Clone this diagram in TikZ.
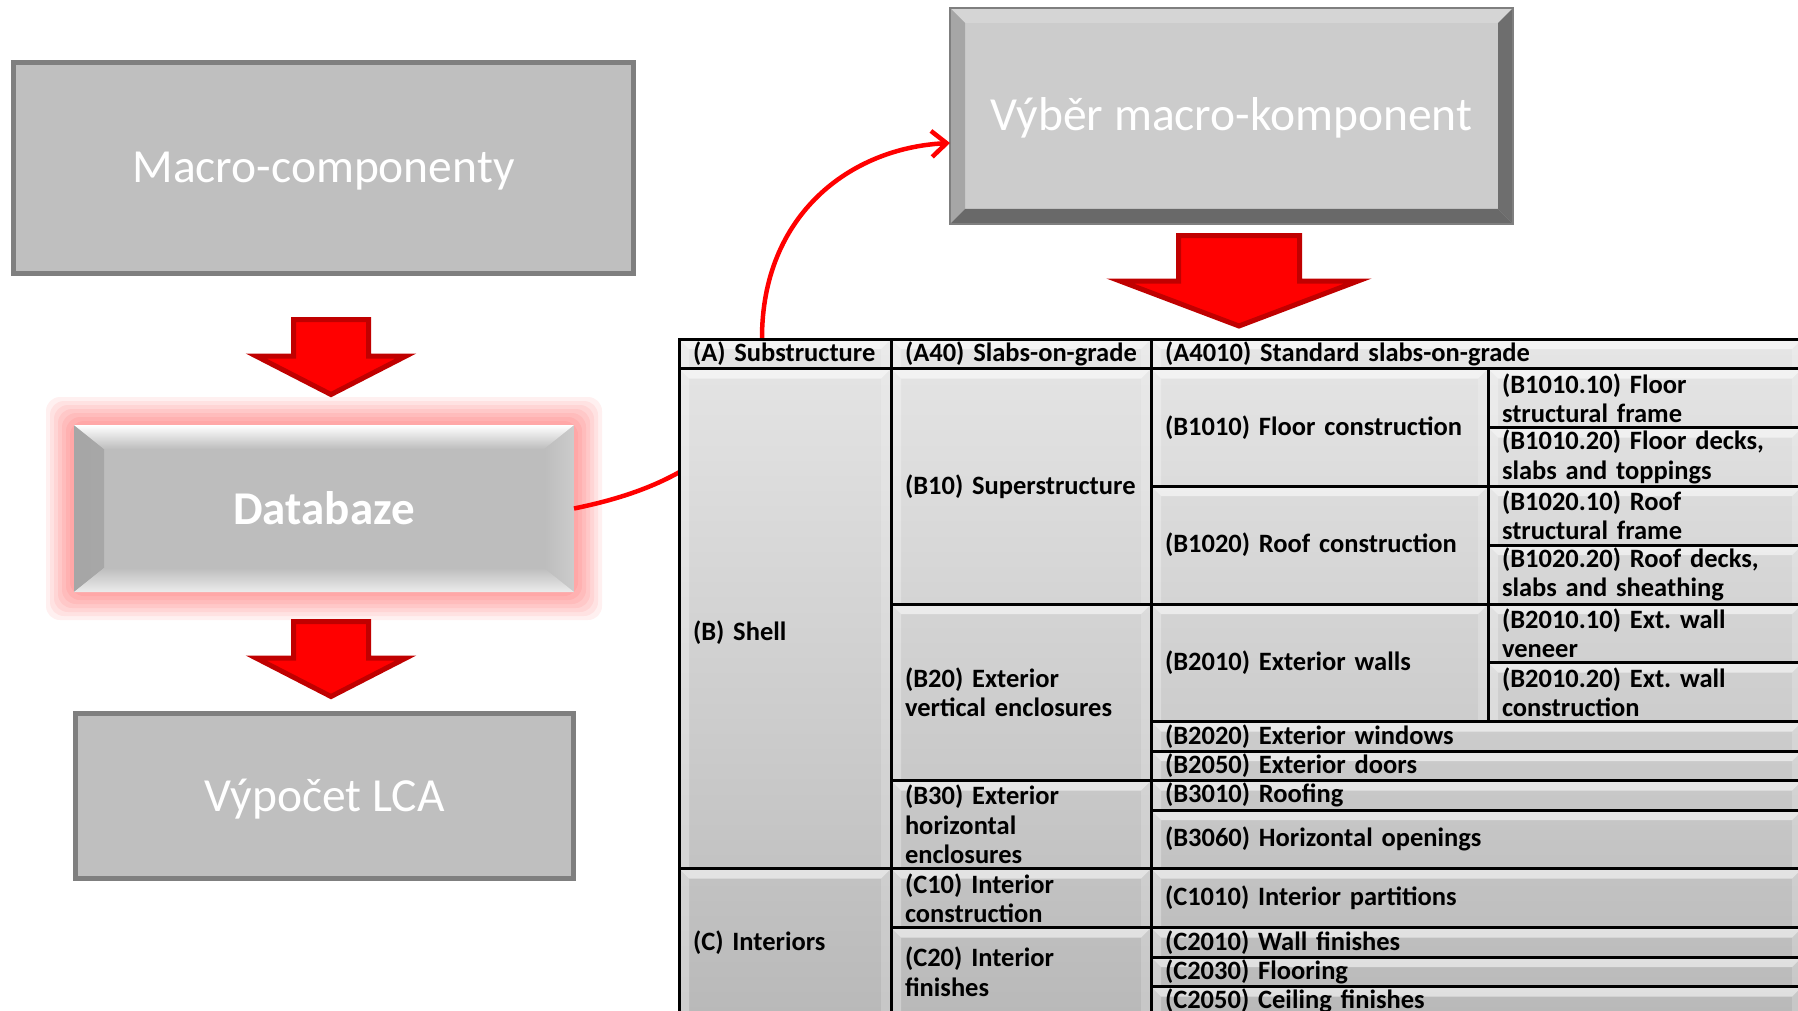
\documentclass[tikz,border=0pt]{standalone}
\usepackage{fontspec}
\setmainfont{Carlito}
\usepackage{tikz}
\usetikzlibrary{arrows.meta}
\frenchspacing

\definecolor{boxfill}{HTML}{BFBFBF}
\definecolor{boxedge}{HTML}{7F7F7F}
\definecolor{dbfill}{HTML}{BDBDBD}
\definecolor{selfill}{HTML}{CCCCCC}
\definecolor{arrowfill}{HTML}{FF0000}
\definecolor{arrowedge}{HTML}{C00000}

\begin{document}
\begin{tikzpicture}[x=1pt, y=-1pt,
  every node/.style={outer sep=0pt},
  flowbox/.style={fill=boxfill, draw=boxedge, line width=5pt, text=white, text height=32pt, text depth=2pt, font=\fontsize{47.5}{56}\selectfont},
  dbbox/.style={fill=dbfill, text=white, font=\bfseries\fontsize{47}{56}\selectfont,
    path picture={
      \shade[left color=gray!70, right color=dbfill] (path picture bounding box.north west) -- ([xshift=30pt,yshift=-24pt]path picture bounding box.north west) -- ([xshift=30pt,yshift=24pt]path picture bounding box.south west) -- (path picture bounding box.south west) -- cycle;
      \shade[left color=dbfill, right color=gray!40] (path picture bounding box.north east) -- ([xshift=-30pt,yshift=-24pt]path picture bounding box.north east) -- ([xshift=-30pt,yshift=24pt]path picture bounding box.south east) -- (path picture bounding box.south east) -- cycle;
      \shade[top color=white, bottom color=dbfill] (path picture bounding box.north west) -- (path picture bounding box.north east) -- ([xshift=-30pt,yshift=-24pt]path picture bounding box.north east) -- ([xshift=30pt,yshift=-24pt]path picture bounding box.north west) -- cycle;
      \shade[top color=dbfill, bottom color=gray!15] (path picture bounding box.south west) -- (path picture bounding box.south east) -- ([xshift=-30pt,yshift=24pt]path picture bounding box.south east) -- ([xshift=30pt,yshift=24pt]path picture bounding box.south west) -- cycle;
    }},
  selbox/.style={fill=selfill, draw=boxedge, line width=2pt, text=white, text height=32pt, text depth=2pt, font=\fontsize{47.5}{56}\selectfont,
    path picture={
      \fill[gray!33] (path picture bounding box.north west) -- (path picture bounding box.north east) -- ([xshift=-15pt,yshift=-15pt]path picture bounding box.north east) -- ([xshift=15pt,yshift=-15pt]path picture bounding box.north west) -- cycle;
      \fill[gray!70] (path picture bounding box.north west) -- ([xshift=15pt,yshift=-15pt]path picture bounding box.north west) -- ([xshift=15pt,yshift=15pt]path picture bounding box.south west) -- (path picture bounding box.south west) -- cycle;
      \fill[black!57] (path picture bounding box.north east) -- ([xshift=-15pt,yshift=-15pt]path picture bounding box.north east) -- ([xshift=-15pt,yshift=15pt]path picture bounding box.south east) -- (path picture bounding box.south east) -- cycle;
      \fill[black!59] (path picture bounding box.south west) -- (path picture bounding box.south east) -- ([xshift=-15pt,yshift=15pt]path picture bounding box.south east) -- ([xshift=15pt,yshift=15pt]path picture bounding box.south west) -- cycle;
    }},
  blockarrow/.style={fill=arrowfill, draw=arrowedge, line width=5pt, line join=miter},
  link/.style={draw=red, line width=4.5pt, -{Straight Barb[length=15pt,width=26pt]}},
  cell/.style={draw=black, line width=3pt, inner xsep=14pt, inner ysep=0pt, align=left, font=\bfseries\fontsize{26.5}{29.4}\selectfont,
    path picture={
      \fill[white, opacity=.55] (path picture bounding box.north west) -- (path picture bounding box.north east) -- ([xshift=-10pt,yshift=-10pt]path picture bounding box.north east) -- ([xshift=10pt,yshift=-10pt]path picture bounding box.north west) -- cycle;
      \fill[white, opacity=.3] (path picture bounding box.north west) -- ([xshift=10pt,yshift=-10pt]path picture bounding box.north west) -- ([xshift=10pt]path picture bounding box.south west) -- (path picture bounding box.south west) -- cycle;
      \fill[white, opacity=.2] (path picture bounding box.north east) -- ([xshift=-10pt,yshift=-10pt]path picture bounding box.north east) -- ([xshift=-10pt]path picture bounding box.south east) -- (path picture bounding box.south east) -- cycle;
    }},
  colA/.style={minimum width=212pt, text width=184pt},
  colB/.style={minimum width=260pt, text width=232pt},
  colC/.style={minimum width=337pt, text width=309pt},
  colD/.style={minimum width=314pt, text width=286pt},
  colCD/.style={minimum width=651pt, text width=623pt}]

\useasboundingbox (0,0) rectangle (1798,1011);
\clip (0,0) rectangle (1798,1011);

% left column
\node[flowbox, minimum width=620pt, minimum height=211pt] (mc) at (323.5,168) {Macro-componenty};
\filldraw[blockarrow] (293.5,319.5) -- (368.5,319.5) -- (368.5,356) -- (406,356) -- (331,394.5) -- (256,356) -- (293.5,356) -- cycle;

\foreach \g in {28,24,...,4}
  \fill[red, opacity=0.06, rounded corners=14pt] ({74-\g},{425-\g}) rectangle ({574+\g},{592+\g});
\node[dbbox, minimum width=500pt, minimum height=167pt] (db) at (324,508.5) {Databaze};
\filldraw[blockarrow] (293.5,621.5) -- (368.5,621.5) -- (368.5,658) -- (406,658) -- (331,696.5) -- (256,658) -- (293.5,658) -- cycle;
\node[flowbox, minimum width=498pt, minimum height=165pt] (lca) at (324.5,796) {Výpočet LCA};

% selection
\node[selbox, minimum width=563pt, minimum height=216pt] (sel) at (1231.5,116) {Výběr macro-komponent};
\filldraw[blockarrow] (1178.5,235.5) -- (1299.5,235.5) -- (1299.5,281) -- (1358,281) -- (1239,326) -- (1120,281) -- (1178.5,281) -- cycle;

\draw[link] (db.east) .. controls (640,495) and (762,460) .. (762,338) .. controls (762,215) and (850,148) .. ([yshift=-27pt]sel.west);

% table
\shade[top color=gray!20, bottom color=gray!55] (679,339) rectangle (1802,1016);

\node[cell,colA,minimum height=29.5pt] (a) at (785,353.75) {(A) Substructure};
\node[cell,colB,minimum height=29.5pt] (a40) at (1021,353.75) {(A40) Slabs-on-grade};
\node[cell,colCD,minimum height=29.5pt] (a4010) at (1476.5,353.75) {(A4010) Standard slabs-on-grade};

\node[cell,colA,minimum height=500pt,text height=48pt,text depth=5pt] (b) at (785,618.5) {(B) Shell};
\node[cell,colB,minimum height=235.5pt] (b10) at (1021,486.25) {(B10) Superstructure};
\node[cell,colC,minimum height=117.5pt] (b1010) at (1319.5,427.25) {(B1010) Floor construction};
\node[cell,colD,minimum height=59pt] (b1010-10) at (1645,398) {(B1010.10) Floor\\structural frame};
\node[cell,colD,minimum height=58.5pt] (b1010-20) at (1645,456.75) {(B1010.20) Floor decks,\\slabs and toppings};
\node[cell,colC,minimum height=118pt] (b1020) at (1319.5,545) {(B1020) Roof construction};
\node[cell,colD,minimum height=59pt] (b1020-10) at (1645,515.5) {(B1020.10) Roof\\structural frame};
\node[cell,colD,minimum height=59pt] (b1020-20) at (1645,574.5) {(B1020.20) Roof decks,\\slabs and sheathing};
\node[cell,colB,minimum height=176.5pt] (b20) at (1021,692.25) {(B20) Exterior\\vertical enclosures};
\node[cell,colC,minimum height=117.5pt] (b2010) at (1319.5,662.75) {(B2010) Exterior walls};
\node[cell,colD,minimum height=58.5pt] (b2010-10) at (1645,633.25) {(B2010.10) Ext. wall\\veneer};
\node[cell,colD,minimum height=59pt] (b2010-20) at (1645,692) {(B2010.20) Ext. wall\\construction};
\node[cell,colCD,minimum height=29.5pt] (b2020) at (1476.5,736.25) {(B2020) Exterior windows};
\node[cell,colCD,minimum height=29.5pt] (b2050) at (1476.5,765.75) {(B2050) Exterior doors};
\node[cell,colB,minimum height=88pt] (b30) at (1021,824.5) {(B30) Exterior\\horizontal\\enclosures};
\node[cell,colCD,minimum height=29.5pt] (b3010) at (1476.5,795.25) {(B3010) Roofing};
\node[cell,colCD,minimum height=58.5pt] (b3060) at (1476.5,839.25) {(B3060) Horizontal openings};

\node[cell,colA,minimum height=147.5pt] (c) at (785,942.25) {(C) Interiors};
\node[cell,colB,minimum height=59pt] (c10) at (1021,898) {(C10) Interior\\construction};
\node[cell,colCD,minimum height=59pt] (c1010) at (1476.5,898) {(C1010) Interior partitions};
\node[cell,colB,minimum height=88.5pt] (c20) at (1021,971.75) {(C20) Interior\\finishes};
\node[cell,colCD,minimum height=29.5pt] (c2010) at (1476.5,942.25) {(C2010) Wall finishes};
\node[cell,colCD,minimum height=29.5pt] (c2030) at (1476.5,971.75) {(C2030) Flooring};
\node[cell,colCD,minimum height=29.5pt] (c2050) at (1476.5,1001.25) {(C2050) Ceiling finishes};
\end{tikzpicture}
\end{document}
